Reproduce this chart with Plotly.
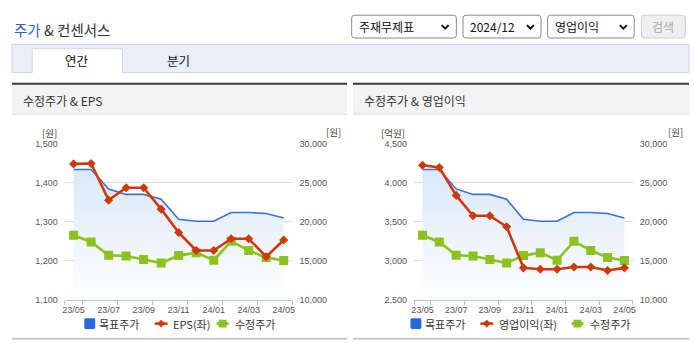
import plotly.graph_objects as go

# ---------------- data ----------------
months = ["23/05", "23/06", "23/07", "23/08", "23/09", "23/10", "23/11",
          "23/12", "24/01", "24/02", "24/03", "24/04", "24/05"]
target_price = [26680, 26680, 24190, 23490, 23490, 22860, 20290,
                20040, 20040, 21160, 21160, 21040, 20460]
adj_price = [18260, 17390, 15690, 15600, 15150, 14690, 15640,
             16020, 15060, 17470, 16310, 15390, 15020]
eps = [1448, 1449, 1355, 1387, 1387, 1332, 1272, 1226, 1226, 1256, 1256, 1210, 1253]
op_profit = [4222, 4193, 3836, 3575, 3575, 3434, 2907, 2890, 2890, 2919, 2919, 2873, 2907]

eps_ticks = [1100, 1200, 1300, 1400, 1500]
op_ticks = [2500, 3000, 3500, 4000, 4500]
price_ticks = [10000, 15000, 20000, 25000, 30000]

# ---------------- geometry helpers ----------------
W, H = 695, 349
def px(x):
    return x / W
def py(y):
    return 1 - y / H

xidx = list(range(len(months)))
label_idx = xidx[::2]
label_txt = months[::2]
boundary_ticks = [-0.5] + [i + 0.5 for i in label_idx]

BLUE = "#3d6fd6"
RED = "#cc3a0c"
GREEN = "#8cc21e"
FONT_KR = "Noto Sans CJK KR"
FONT_NUM = "Liberation Sans, Arial, sans-serif"

fig = go.Figure()

def add_chart(xa, ya_price, ya_left, left_vals):
    # target price area (price axis)
    fig.add_trace(go.Scatter(
        x=xidx, y=target_price, xaxis=xa, yaxis=ya_price, mode="lines",
        line=dict(color=BLUE, width=1.6), fill="tozeroy",
        fillgradient=dict(type="vertical", start=10000, stop=28000,
                          colorscale=[[0, "rgba(255,255,255,1)"], [1, "#d7e6f8"]]),
        showlegend=False, hoverinfo="skip"))
    # adjusted price
    fig.add_trace(go.Scatter(
        x=xidx, y=adj_price, xaxis=xa, yaxis=ya_price, mode="lines+markers",
        line=dict(color=GREEN, width=2.6),
        marker=dict(symbol="square", size=9, color=GREEN),
        showlegend=False))
    # left axis series
    fig.add_trace(go.Scatter(
        x=xidx, y=left_vals, xaxis=xa, yaxis=ya_left, mode="lines+markers",
        line=dict(color=RED, width=2.6),
        marker=dict(symbol="diamond", size=7, color=RED),
        showlegend=False))

add_chart("x", "y", "y2", eps)
add_chart("x2", "y3", "y4", op_profit)

def xaxis_cfg(x0, x1, anchor):
    return dict(domain=[px(x0), px(x1)], anchor=anchor, range=[-0.5, 12.5],
                tickmode="array", tickvals=label_idx, ticktext=label_txt, ticks="",
                showgrid=False, zeroline=False, showline=True, linecolor="#b9c3d3",
                linewidth=1, ticklabelstandoff=2,
                tickfont=dict(family=FONT_NUM, size=9, color="#555"),
                minor=dict(tickmode="array", tickvals=boundary_ticks, ticks="outside",
                           ticklen=4, tickcolor="#b9c3d3", tickwidth=1, showgrid=False))

def price_axis(anchor):
    return dict(domain=[1 - 303.3 / H, 1 - 142.7 / H], anchor=anchor, side="right",
                range=[10000, 30000], tickvals=price_ticks, tickformat=",",
                showgrid=True, gridcolor="#dcdcdc", gridwidth=1, zeroline=False,
                showline=False, ticks="", ticklabelstandoff=6,
                tickfont=dict(family=FONT_NUM, size=9, color="#555"))

def left_axis(anchor, over, rng, tv):
    return dict(anchor=anchor, overlaying=over, side="left", range=rng, tickvals=tv,
                tickformat=",", showgrid=False, zeroline=False, showline=False,
                ticks="", ticklabelstandoff=6,
                tickfont=dict(family=FONT_NUM, size=9, color="#555"))

fig.update_layout(
    width=W, height=H, margin=dict(l=0, r=0, t=0, b=0),
    paper_bgcolor="white", plot_bgcolor="rgba(0,0,0,0)",
    xaxis=xaxis_cfg(62.4, 292.0, "y"),
    xaxis2=xaxis_cfg(414.7, 635.3, "y3"),
    yaxis=price_axis("x"),
    yaxis2=left_axis("x", "y", [1100, 1500], eps_ticks),
    yaxis3=price_axis("x2"),
    yaxis4=left_axis("x2", "y3", [2500, 4500], op_ticks),
    showlegend=False,
)

shapes = []
annotations = []

def rect(x0, y0, x1, y1, fill, line=None, lw=1):
    shapes.append(dict(type="rect", xref="paper", yref="paper",
                       x0=px(x0), x1=px(x1), y0=py(y1), y1=py(y0),
                       fillcolor=fill, line=dict(color=line or fill, width=lw if line else 0),
                       layer="below"))

def rrect(x0, y0, x1, y1, r, fill, line, lw=1, layer="below"):
    pts = (f"M{px(x0 + r)},{py(y0)} L{px(x1 - r)},{py(y0)} "
           f"Q{px(x1)},{py(y0)} {px(x1)},{py(y0 + r)} L{px(x1)},{py(y1 - r)} "
           f"Q{px(x1)},{py(y1)} {px(x1 - r)},{py(y1)} L{px(x0 + r)},{py(y1)} "
           f"Q{px(x0)},{py(y1)} {px(x0)},{py(y1 - r)} L{px(x0)},{py(y0 + r)} "
           f"Q{px(x0)},{py(y0)} {px(x0 + r)},{py(y0)} Z")
    shapes.append(dict(type="path", xref="paper", yref="paper", path=pts,
                       fillcolor=fill, line=dict(color=line, width=lw), layer=layer))

def hline(x0, x1, y, color, w=1, layer="below"):
    shapes.append(dict(type="line", xref="paper", yref="paper",
                       x0=px(x0), x1=px(x1), y0=py(y), y1=py(y),
                       line=dict(color=color, width=w), layer=layer))

def text(x, y, s, size, color="#333", xanchor="left", family=FONT_KR):
    annotations.append(dict(xref="paper", yref="paper", x=px(x), y=py(y), text=s,
                            showarrow=False, xanchor=xanchor, yanchor="middle",
                            borderpad=0,
                            font=dict(family=family, size=size, color=color)))

def chevron(cx, cy):
    shapes.append(dict(type="path", xref="paper", yref="paper",
                       path=f"M{px(cx - 3.5)},{py(cy - 1.8)} L{px(cx)},{py(cy + 1.8)} L{px(cx + 3.5)},{py(cy - 1.8)}",
                       line=dict(color="#111", width=2), layer="above"))

# ---- header ----
text(10, 25, "<span style='color:#2f62cc'>주가</span> & 컨센서스", 14.5, "#333")

# dropdowns
for (x0, x1, label, chev) in [(351.7, 457.3, "주재무제표", 446),
                              (464.0, 542.7, "2024/12", 532),
                              (549.3, 636.7, "영업이익", 625.7)]:
    rrect(x0, 10.5, x1, 34, 3, "white", "#8a8a8a")
    text(x0 + 6.5, 22.5, label, 12, "#111")
    chevron(chev, 22.5)
rrect(644, 10.5, 688.3, 34, 3, "#efefef", "#cfcfcf")
text(666.2, 22.5, "검색", 12, "#a8a8a8", xanchor="center")

# tab bar
rect(9, 40.5, 692, 69.5, "#e9eff9", "#cfd8e6")
rect(29.5, 45, 120.5, 69.5, "white", "#cfd8e6")
hline(30, 120, 69.5, "white", 1)
text(75, 57.5, "연간", 12.5, "#111", xanchor="center")
text(177, 57.5, "분기", 12.5, "#111", xanchor="center")

# panels
for (x0, x1, title) in [(9, 347, "수정주가 & EPS"), (353, 692, "수정주가 & 영업이익")]:
    rect(x0, 80, x1, 112.5, "#f3f3f3")
    hline(x0, x1, 81, "#3a3a3a", 2)
    hline(x0, x1, 112.5, "#dedede", 1)
    hline(x0, x1, 343.5, "#c9c9c9", 2)
    text(x0 + 10, 98, title, 12, "#333")

# axis unit labels
text(46.5, 131.5, "[원]", 9.5, "#444", xanchor="center")
text(333, 130.5, "[원]", 9.5, "#444", xanchor="center")
text(393, 131.5, "[억원]", 9.5, "#444", xanchor="center")
text(678, 130.5, "[원]", 9.5, "#444", xanchor="center")

# legends (drawn as decorations)
def legend(cx_blue, tx_blue, cx_red, tx_red, red_label, cx_green, tx_green, ly=328):
    rrect(cx_blue - 5.5, ly - 5.5, cx_blue + 5.5, ly + 5.5, 1.5, "#2468dc", "#2468dc", 0, layer="above")
    text(tx_blue, ly, "목표주가", 11, "#333")
    hline(cx_red - 6.5, cx_red + 6.5, ly, RED, 2.5, layer="above")
    shapes.append(dict(type="path", xref="paper", yref="paper", layer="above",
                       path=f"M{px(cx_red)},{py(ly - 4)} L{px(cx_red + 4)},{py(ly)} L{px(cx_red)},{py(ly + 4)} L{px(cx_red - 4)},{py(ly)} Z",
                       fillcolor=RED, line=dict(color=RED, width=0)))
    text(tx_red, ly, red_label, 11, "#333")
    hline(cx_green - 6, cx_green + 6, ly, GREEN, 3, layer="above")
    rect(cx_green - 4, ly - 4, cx_green + 4, ly + 4, GREEN)
    shapes[-1]["layer"] = "above"
    text(tx_green, ly, "수정주가", 11, "#333")

legend(87.5, 96, 159.5, 170.5, "EPS(좌)", 221.5, 233.5)
legend(416.5, 425, 488, 499.5, "영업이익(좌)", 579.5, 591)

fig.update_layout(shapes=shapes, annotations=annotations)
fig.write_html("out.html")
